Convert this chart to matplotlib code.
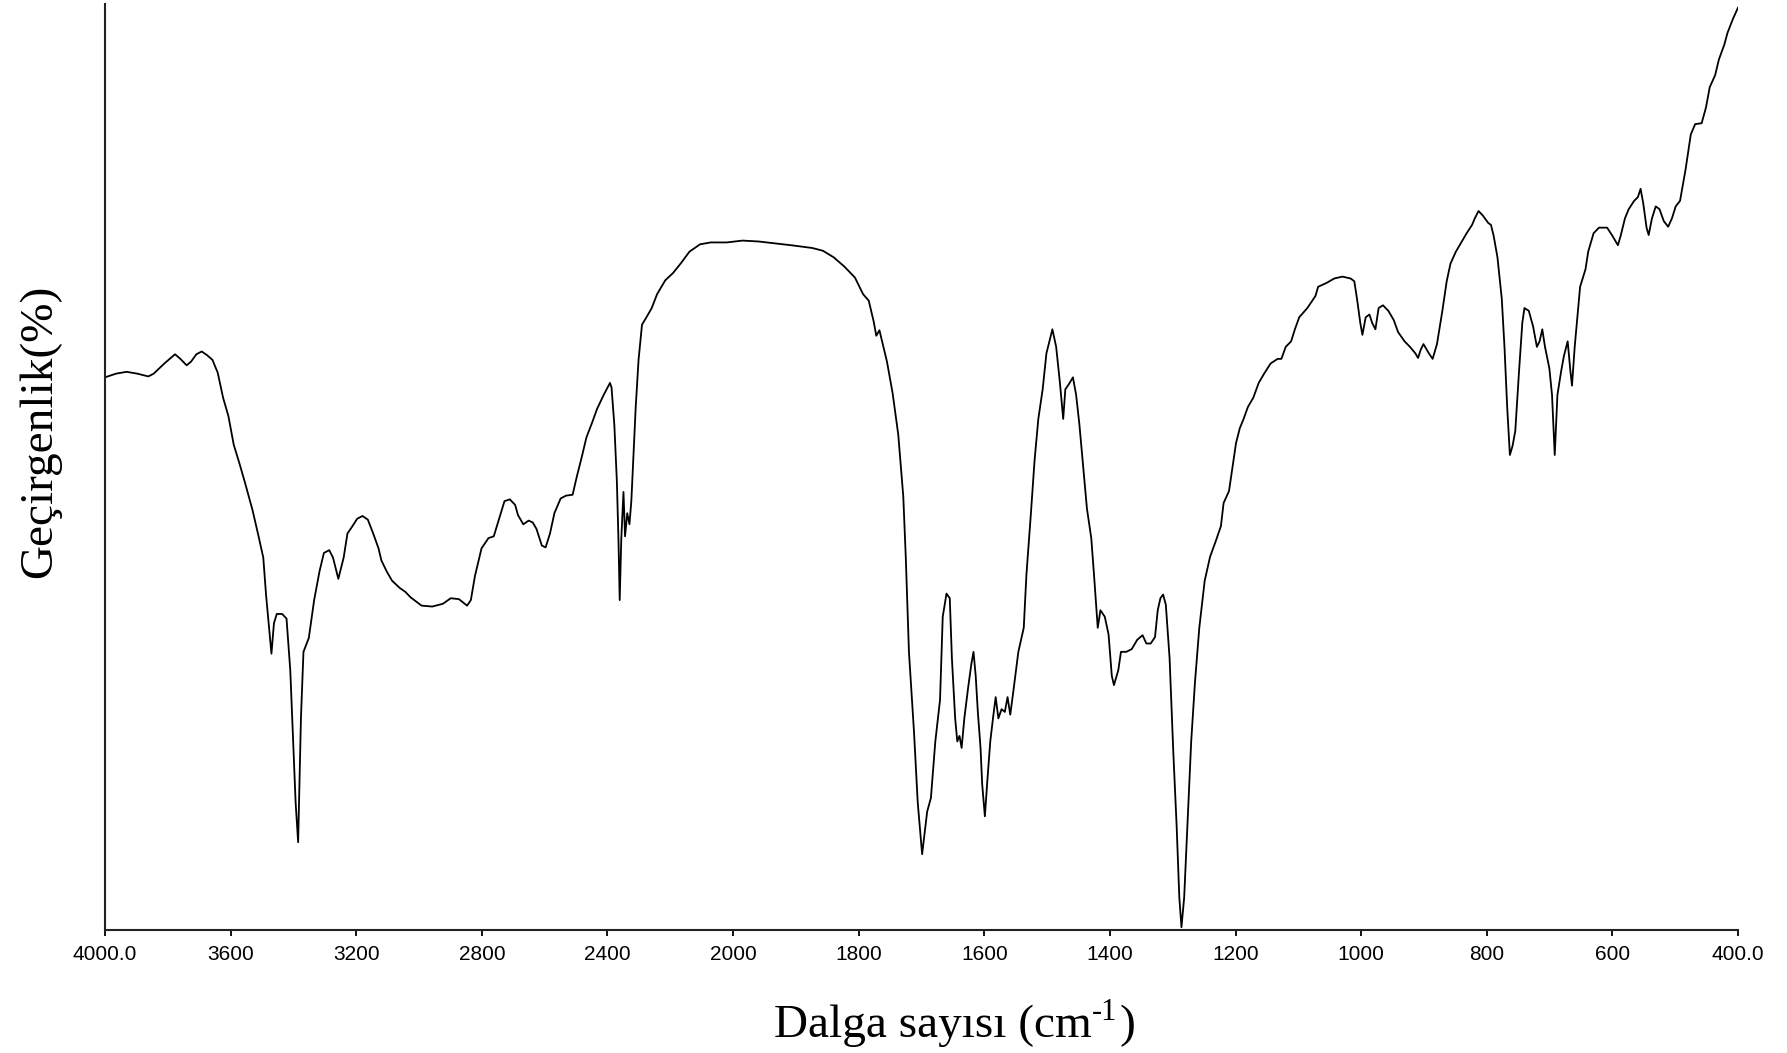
import numpy as np
import matplotlib
matplotlib.use("Agg")
import matplotlib.pyplot as plt

# Wavenumber (cm-1) and transmittance (arbitrary %, axis 0-100)
wn_high = [4000, 3965, 3931, 3897, 3862, 3845, 3811, 3777, 3760, 3740, 3726, 3709, 3692, 3675,
           3658, 3641, 3624, 3607, 3590, 3572, 3555, 3530, 3513, 3496, 3487, 3479, 3470, 3462,
           3453, 3436, 3422, 3410, 3402, 3393, 3385, 3376, 3368, 3351, 3334, 3317, 3303, 3286,
           3274, 3257, 3240, 3228, 3214, 3197, 3180, 3163, 3146, 3129, 3120, 3103, 3086, 3061,
           3044, 3027, 2992, 2958, 2924, 2899, 2873, 2847, 2835, 2822, 2801, 2779, 2762, 2745,
           2728, 2711, 2694, 2685, 2668, 2651, 2638, 2626, 2609, 2597, 2583, 2569, 2549, 2532,
           2511, 2498, 2481, 2467, 2450, 2433, 2412, 2392, 2387, 2378, 2370, 2365, 2361, 2356,
           2349, 2344, 2337, 2330, 2324, 2317, 2310, 2301, 2290, 2276, 2259, 2242, 2216, 2191,
           2165, 2139, 2105, 2071, 2020, 1985, 1959, 1934, 1908, 1874, 1857, 1840, 1823, 1806,
           1793, 1784, 1776, 1772, 1767, 1761, 1755, 1746, 1737, 1729, 1725, 1720, 1712, 1706,
           1699, 1691, 1685, 1678]
t_high = [59.6, 60.0, 60.2, 60.0, 59.7, 60.0, 61.1, 62.1, 61.6, 60.9, 61.3, 62.1, 62.4, 62.0,
          61.5, 60.1, 57.4, 55.4, 52.3, 50.3, 48.3, 45.2, 42.7, 40.1, 36.0, 33.0, 29.7, 33.0,
          34.0, 34.0, 33.5, 27.9, 21.3, 13.6, 9.3, 22.8, 29.9, 31.4, 35.5, 38.6, 40.6, 40.9,
          40.1, 37.8, 40.1, 42.7, 43.4, 44.3, 44.6, 44.2, 42.7, 41.1, 39.8, 38.6, 37.6, 36.8,
          36.4, 35.8, 34.9, 34.8, 35.1, 35.7, 35.6, 34.9, 35.5, 38.1, 41.1, 42.2, 42.4, 44.3,
          46.2, 46.4, 45.8, 44.7, 43.7, 44.1, 43.9, 43.2, 41.4, 41.2, 42.7, 44.9, 46.5, 46.8,
          46.9, 48.8, 51.1, 53.1, 54.6, 56.2, 57.7, 59.0, 58.5, 54.4, 48.3, 42.1, 35.5, 42.1,
          47.2, 42.4, 44.9, 43.7, 46.2, 51.3, 56.4, 61.5, 65.3, 66.1, 67.1, 68.6, 70.1, 70.9,
          72.0, 73.2, 74.0, 74.2, 74.2, 74.4, 74.3, 74.1, 73.9, 73.6, 73.3, 72.6, 71.6, 70.4,
          68.6, 67.9, 65.6, 64.1, 64.7, 63.0, 61.3, 57.9, 53.4, 46.7, 40.1, 29.9, 21.3, 13.6,
          8.0, 12.6, 14.1, 20.2]

wn_low = [1670.5, 1666.2, 1660.2, 1655.0, 1651.6, 1646.4, 1643.0, 1639.5, 1636.1, 1631.8,
          1625.8, 1620.6, 1617.2, 1613.7, 1610.3, 1606.0, 1603.4, 1599.1, 1594.8, 1590.5,
          1586.2, 1581.9, 1577.6, 1572.5, 1567.3, 1563.0, 1558.7, 1554.4, 1545.8, 1537.2,
          1532.9, 1526.0, 1520.0, 1514.0, 1507.1, 1501.1, 1491.6, 1485.6, 1479.6, 1474.4,
          1471.0, 1464.1, 1458.9, 1453.8, 1448.6, 1442.6, 1436.6, 1429.7, 1425.4, 1419.4,
          1415.1, 1408.2, 1402.2, 1397.0, 1393.6, 1386.7, 1382.4, 1373.8, 1365.2, 1356.6,
          1348.0, 1342.0, 1335.1, 1328.2, 1323.9, 1319.6, 1315.3, 1311.0, 1305.0, 1299.0,
          1293.8, 1289.5, 1286.1, 1281.8, 1276.6, 1270.6, 1264.6, 1257.7, 1249.1, 1240.5,
          1231.9, 1223.3, 1219.0, 1210.4, 1206.1, 1199.2, 1193.2, 1187.2, 1180.3, 1171.7,
          1163.1, 1154.5, 1144.2, 1133.0, 1127.0, 1120.1, 1111.5, 1105.5, 1098.6, 1085.7,
          1072.8, 1068.5, 1055.6, 1042.7, 1029.8, 1016.9, 1010.9, 1006.6, 1001.4, 998.0,
          992.8, 986.8, 982.5, 977.3, 972.2, 965.3, 956.7, 948.1, 941.2, 930.9,
          922.3, 913.7, 909.4, 905.1, 900.8, 892.2, 886.2, 879.3, 870.7, 863.8,
          857.8, 849.2, 840.6, 832.0, 823.4, 819.1, 813.1, 806.2, 797.6, 793.3,
          789.0, 783.0, 776.1, 771.8, 767.5, 763.2, 758.9, 754.6, 748.6, 743.4,
          740.0, 733.1, 726.2, 720.2, 715.9, 711.6, 707.3, 700.4, 696.1, 691.8,
          687.5, 681.5, 677.2, 671.2, 666.9, 664.3, 660.0, 655.7, 651.4, 642.8,
          638.5, 629.9, 621.3, 608.4, 599.8, 591.2, 586.9, 580.0, 574.0, 565.4,
          559.4, 555.1, 550.8, 545.6, 542.2, 537.0, 531.0, 525.0, 518.1, 511.2,
          505.2, 499.2, 492.3, 483.7, 475.1, 468.2, 457.9, 451.0, 445.0, 436.4,
          430.4, 421.8, 416.6, 408.0, 400.0]
t_low = [24.7, 33.7, 36.2, 35.7, 29.2, 22.7, 20.2, 20.8, 19.5, 22.7,
         26.0, 28.6, 29.9, 27.3, 23.4, 19.5, 15.6, 12.1, 16.3, 20.2,
         22.7, 25.0, 22.7, 23.7, 23.4, 25.0, 23.1, 25.3, 29.9, 32.5,
         38.3, 44.7, 50.6, 55.1, 58.3, 62.2, 64.8, 62.9, 59.0, 55.1,
         58.3, 59.0, 59.6, 57.7, 54.5, 49.9, 45.4, 42.2, 38.3, 32.5,
         34.4, 33.7, 31.8, 27.3, 26.3, 27.9, 29.9, 29.9, 30.2, 31.2,
         31.7, 30.8, 30.8, 31.5, 34.4, 35.7, 36.1, 35.0, 29.2, 18.9,
         11.1, 3.3, 0.1, 3.3, 11.1, 20.2, 26.6, 32.5, 37.6, 40.2,
         41.8, 43.5, 46.0, 47.3, 49.3, 52.5, 54.1, 55.1, 56.4, 57.4,
         59.0, 60.0, 61.1, 61.6, 61.6, 62.9, 63.5, 64.8, 66.1, 67.1,
         68.4, 69.4, 69.8, 70.3, 70.5, 70.3, 70.0, 68.1, 65.5, 64.2,
         66.1, 66.4, 65.5, 64.8, 67.1, 67.4, 66.8, 65.8, 64.5, 63.5,
         62.9, 62.2, 61.7, 62.6, 63.2, 62.2, 61.6, 63.2, 66.8, 70.0,
         71.9, 73.2, 74.2, 75.2, 76.1, 76.8, 77.6, 77.1, 76.3, 76.1,
         74.9, 72.6, 68.1, 62.9, 56.4, 51.2, 52.2, 53.8, 60.3, 65.5,
         67.1, 66.8, 65.1, 62.9, 63.5, 64.8, 62.9, 60.6, 57.7, 51.2,
         57.7, 60.3, 61.9, 63.5, 60.3, 58.7, 62.9, 66.1, 69.4, 71.3,
         73.2, 75.2, 75.8, 75.8, 74.9, 73.9, 74.9, 76.8, 77.8, 78.7,
         79.1, 80.0, 78.4, 75.8, 75.0, 76.8, 78.1, 77.8, 76.5, 75.9,
         76.8, 78.1, 78.7, 82.0, 85.9, 87.0, 87.1, 88.8, 91.0, 92.3,
         94.0, 95.6, 96.9, 98.4, 99.6]

tick_values = [4000, 3600, 3200, 2800, 2400, 2000, 1800, 1600, 1400, 1200, 1000, 800, 600, 400]
tick_labels = ["4000.0", "3600", "3200", "2800", "2400", "2000", "1800", "1600",
               "1400", "1200", "1000", "800", "600", "400.0"]

wn = np.array(wn_high + wn_low)
tr = np.array(t_high + t_low)

fig = plt.figure(figsize=(17.87, 10.53), dpi=100)
ax = fig.add_axes([105/1787, 123/1053, (1738-105)/1787, (930-4)/1053])


def fwd(x):
    x = np.asarray(x, dtype=float)
    return np.where(x >= 2000, x, 2 * x - 2000)


def inv(y):
    y = np.asarray(y, dtype=float)
    return np.where(y >= 2000, y, (y + 2000) / 2)


ax.set_xscale('function', functions=(fwd, inv))
ax.plot(wn, tr, color='black', lw=1.3)
ax.set_xlim(4000, 400)
ax.set_ylim(-0.2, 100)

ax.set_xticks(tick_values)
ax.set_xticklabels(tick_labels, fontsize=15, family='Liberation Sans')
ax.xaxis.set_minor_locator(matplotlib.ticker.NullLocator())
ax.tick_params(axis='x', direction='out', length=4, width=1.3, pad=7, colors='black')
ax.set_yticks([])
for s in ['top', 'right']:
    ax.spines[s].set_visible(False)
for s in ['left', 'bottom']:
    ax.spines[s].set_linewidth(1.5)
    ax.spines[s].set_color('#222222')

# x label built from three pieces: "Dalga sayısı (cm", raised "-1", ")"
renderer = fig.canvas.get_renderer()
pieces = [("Dalga sayısı (cm", 34, 16), ("-1", 22, 33), (")", 34, 16)]
widths = []
for s, fs, _ in pieces:
    t = fig.text(0, 0, s, family='Liberation Serif', fontsize=fs)
    widths.append(t.get_window_extent(renderer=renderer).width)
    t.remove()
gap = 2
total = sum(widths) + gap
x = 955 - total / 2
for (s, fs, yb), w in zip(pieces, widths):
    fig.text(x / fig.bbox.width, yb / fig.bbox.height, s, family='Liberation Serif',
             fontsize=fs, ha='left', va='baseline')
    x += w + (gap if s == "-1" else 0)

fig.text(40/1787, 1 - 431/1053, "Geçirgenlik(%)", family='Liberation Serif',
         fontsize=34, ha='center', va='center', rotation=90)

fig.savefig("out.png", dpi=100)
